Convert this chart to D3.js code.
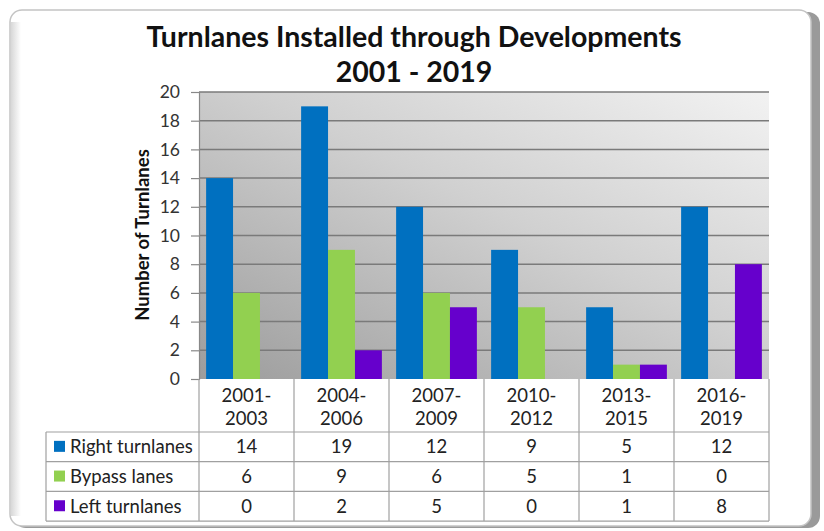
<!DOCTYPE html>
<html><head><meta charset="utf-8">
<script src="https://cdn.jsdelivr.net/npm/d3@7"></script>
<style>body{margin:0;background:#fff;} text{font-family:Lato,"Open Sans",sans-serif;}</style>
</head><body>
<svg id="c" width="824" height="531"></svg>
<script>
const categories = [["2001-","2003"],["2004-","2006"],["2007-","2009"],["2010-","2012"],["2013-","2015"],["2016-","2019"]];
const seriesNames = ["Right turnlanes","Bypass lanes","Left turnlanes"];
const rightTurnlanes = [14,19,12,9,5,12];
const bypassLanes = [6,9,6,5,1,0];
const leftTurnlanes = [0,2,5,0,1,8];
const yTicks = [0,2,4,6,8,10,12,14,16,18,20];
const colors = ["#0070C0","#92D050","#6600CC"];
const series = [rightTurnlanes, bypassLanes, leftTurnlanes];

const svg = d3.select("#c");
const defs = svg.append("defs");
const g1 = defs.append("linearGradient").attr("id","bg").attr("x1","0").attr("y1","1").attr("x2","1").attr("y2","0");
g1.append("stop").attr("offset","0").attr("stop-color","#9c9c9c");
g1.append("stop").attr("offset","0.55").attr("stop-color","#d0d0d0");
g1.append("stop").attr("offset","1").attr("stop-color","#f2f2f2");
const sh = defs.append("linearGradient").attr("id","lsh").attr("x1","0").attr("x2","1");
sh.append("stop").attr("offset","0").attr("stop-color","#d8d8d8");
sh.append("stop").attr("offset","1").attr("stop-color","#ffffff");

// frame
svg.append("rect").attr("x",14).attr("y",12).attr("width",806).attr("height",516).attr("rx",12).attr("fill","#9a9a9a");
svg.append("rect").attr("x",10).attr("y",10).attr("width",801).attr("height",516).attr("rx",12).attr("fill","#fff").attr("stroke","#c4c4c4").attr("stroke-width",1.5);
svg.append("rect").attr("x",11).attr("y",22).attr("width",10).attr("height",494).attr("fill","url(#lsh)");

const L=199, R=769, T=92, B=379;
const x0 = d3.scaleBand().domain(d3.range(categories.length)).range([L,R]).paddingInner(0.15).paddingOuter(0.075);
const x1 = d3.scaleBand().domain(d3.range(series.length)).range([0,x0.bandwidth()]);
const y = d3.scaleLinear().domain([0,20]).range([B,T]);

svg.append("rect").attr("x",L).attr("y",T).attr("width",R-L).attr("height",B-T).attr("fill","url(#bg)");

// gridlines
svg.append("g").selectAll("line").data(yTicks.filter(d=>d>0)).join("line")
  .attr("x1",L).attr("x2",R).attr("y1",d=>y(d)).attr("y2",d=>y(d))
  .attr("stroke","#7a7a7a").attr("stroke-width",1.5);

// y axis
const ya = svg.append("g").attr("transform",`translate(${L},0)`)
  .call(d3.axisLeft(y).tickValues(yTicks).tickSize(8).tickPadding(11));
ya.select(".domain").attr("stroke","#888").attr("stroke-width",1.2);
ya.selectAll(".tick line").attr("stroke","#888").attr("stroke-width",1.2);
ya.selectAll(".tick text").attr("font-size",17.5).attr("fill","#333").style("font-family","Lato");

// bars
series.forEach((s,si)=>{
  svg.append("g").selectAll("rect").data(s).join("rect")
    .attr("x",(d,i)=>x0(i)+x1(si)).attr("width",x1.bandwidth())
    .attr("y",d=>y(d)).attr("height",d=>B-y(d)).attr("fill",colors[si]);
});

// titles
svg.append("text").attr("x",414).attr("y",47).attr("text-anchor","middle").attr("font-size",28.5).attr("font-weight","bold").attr("fill","#111").text("Turnlanes Installed through Developments");
svg.append("text").attr("x",414).attr("y",82).attr("text-anchor","middle").attr("font-size",28.5).attr("font-weight","bold").attr("fill","#111").text("2001 - 2019");
svg.append("text").attr("transform","translate(149,235) rotate(-90)").attr("text-anchor","middle").attr("font-size",18.5).attr("font-weight","bold").attr("fill","#111").text("Number of Turnlanes");

// data table
const tl = 46, hb = 432, rowH = 29.7;
const edges = d3.range(categories.length+1).map(i=> L + i*(R-L)/categories.length);
const grid = svg.append("g").attr("stroke","#a0a0a0").attr("stroke-width",1.2);
edges.forEach(e=>grid.append("line").attr("x1",e).attr("x2",e).attr("y1",B).attr("y2",hb+3*rowH));
grid.append("line").attr("x1",tl).attr("x2",tl).attr("y1",hb).attr("y2",hb+3*rowH);
d3.range(4).forEach(r=>grid.append("line").attr("x1",tl).attr("x2",R).attr("y1",hb+r*rowH).attr("y2",hb+r*rowH));

categories.forEach((c,i)=>{
  const cx = x0(i)+x0.bandwidth()/2;
  svg.append("text").attr("x",cx).attr("y",402).attr("text-anchor","middle").attr("font-size",18.5).attr("fill","#222").text(c[0]);
  svg.append("text").attr("x",cx).attr("y",425).attr("text-anchor","middle").attr("font-size",18.5).attr("fill","#222").text(c[1]);
});
series.forEach((s,si)=>{
  const yy = hb + si*rowH + rowH/2;
  svg.append("rect").attr("x",54).attr("y",yy-6).attr("width",11).attr("height",11).attr("fill",colors[si]);
  svg.append("text").attr("x",70).attr("y",yy+6.5).attr("font-size",18.5).attr("fill","#222").text(seriesNames[si]);
  s.forEach((v,i)=>{
    svg.append("text").attr("x",x0(i)+x0.bandwidth()/2).attr("y",yy+6.5).attr("text-anchor","middle").attr("font-size",18.5).attr("fill","#222").text(v);
  });
});
</script>
</body></html>
